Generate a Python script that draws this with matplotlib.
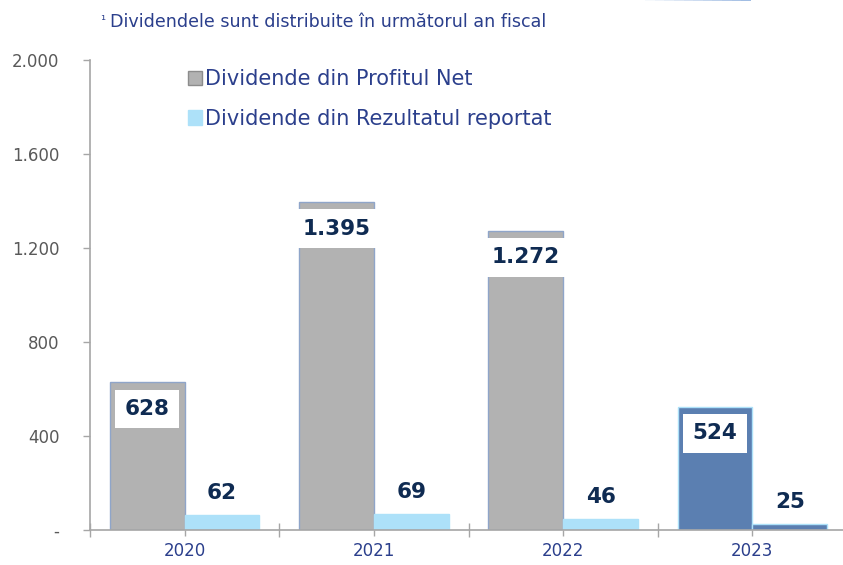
import matplotlib.pyplot as plt
import numpy as np
from matplotlib.lines import Line2D
from matplotlib.patches import Patch

# Dividend data (mil. lei), grouped by fiscal year
years = ["2020", "2021", "2022", "2023"]
profit_net = [628, 1395, 1272, 524]
rezultat_reportat = [62, 69, 46, 25]
y_ticks = [0, 400, 800, 1200, 1600, 2000]
y_tick_labels = ["-", "400", "800", "1.200", "1.600", "2.000"]

GREY = "#b2b2b2"
GREY_EDGE = "#8fa5c9"
SKY = "#ade1f9"
BLUE_2023 = "#5b7fb1"
NAVY = "#0f2b52"
TEXT_BLUE = "#2b3f8c"
AXIS_GREY = "#a6a6a6"

plt.rcParams["font.family"] = ["DejaVu Sans"]

fig = plt.figure(figsize=(8.43, 5.65), dpi=100)
ax = fig.add_axes([90 / 843, 35 / 565, 757 / 843, 470 / 565])

x = np.arange(len(years))
w = 0.395

# last year is highlighted in dark blue
net_colors = [GREY] * 3 + [BLUE_2023]
net_edges = [GREY_EDGE] * 3 + [SKY]
rep_colors = [SKY] * 3 + [BLUE_2023]
rep_edges = [SKY] * 3 + [SKY]

ax.bar(x - w / 2, profit_net, w, color=net_colors, edgecolor=net_edges, linewidth=1)
ax.bar(x + w / 2, rezultat_reportat, w, color=rep_colors, edgecolor=rep_edges, linewidth=1)

# value labels: boxed inside the net-profit bars, plain above the small bars
for xi, v in zip(x, profit_net):
    ax.annotate(f"{v:,}".replace(",", "."), (xi - w / 2, v), xytext=(0, -19),
                textcoords="offset points", ha="center", va="center",
                fontsize=15.5, fontweight="bold", color=NAVY,
                bbox=dict(boxstyle="square,pad=0.43", fc="white", ec="none"))
for xi, v in zip(x, rezultat_reportat):
    ax.annotate(str(v), (xi + w / 2, v), xytext=(0, 16),
                textcoords="offset points", ha="center", va="center",
                fontsize=15.5, fontweight="bold", color=NAVY)

ax.set_xlim(-0.5, len(years) - 0.5)
ax.set_ylim(0, 2000)

ax.set_yticks(y_ticks)
ax.set_yticklabels(y_tick_labels, fontsize=12, color="#595959")
ax.tick_params(axis="y", direction="out", length=5, width=1, color=AXIS_GREY, pad=17)

ax.set_xticks(np.arange(len(years) + 1) - 0.5)
ax.set_xticklabels([])
ax.tick_params(axis="x", which="major", direction="inout", length=10, width=1, color=AXIS_GREY)
ax.set_xticks(x, minor=True)
ax.set_xticklabels(years, minor=True, fontsize=12, color=TEXT_BLUE)
ax.tick_params(axis="x", which="minor", direction="out", length=4, width=1,
               color=AXIS_GREY, pad=5)

for side in ["top", "right"]:
    ax.spines[side].set_visible(False)
for side in ["left", "bottom"]:
    ax.spines[side].set_color(AXIS_GREY)
    ax.spines[side].set_linewidth(1.2)

handles = [
    Patch(facecolor=GREY, edgecolor="#8c8c8c", label="Dividende din Profitul Net"),
    Patch(facecolor=SKY, edgecolor=SKY, label="Dividende din Rezultatul reportat"),
]
leg = ax.legend(handles=handles, loc="upper left", bbox_to_anchor=(0.118, 0.998),
                frameon=False, fontsize=15, handlelength=0.7, handleheight=0.7,
                handletextpad=0.15, labelspacing=0.95, borderaxespad=0)
for t in leg.get_texts():
    t.set_color(TEXT_BLUE)

fig.text(100 / 843, 1 - 20 / 565, "¹", fontsize=9, color=TEXT_BLUE, va="center", ha="left")
fig.text(110 / 843, 1 - 22 / 565, "Dividendele sunt distribuite în următorul an fiscal",
         fontsize=12.6, color=TEXT_BLUE, va="center", ha="left")

# thin accent line along the top edge, fading in from the left
seg = np.linspace(645, 751, 12)
for i in range(len(seg) - 1):
    fig.add_artist(Line2D([seg[i] / 843, seg[i + 1] / 843], [0.9995, 0.9995],
                          color="#8fb0de", lw=1.2, alpha=(i + 1) / (len(seg) - 1),
                          transform=fig.transFigure, solid_capstyle="butt"))

fig.savefig("out.png", dpi=100)
